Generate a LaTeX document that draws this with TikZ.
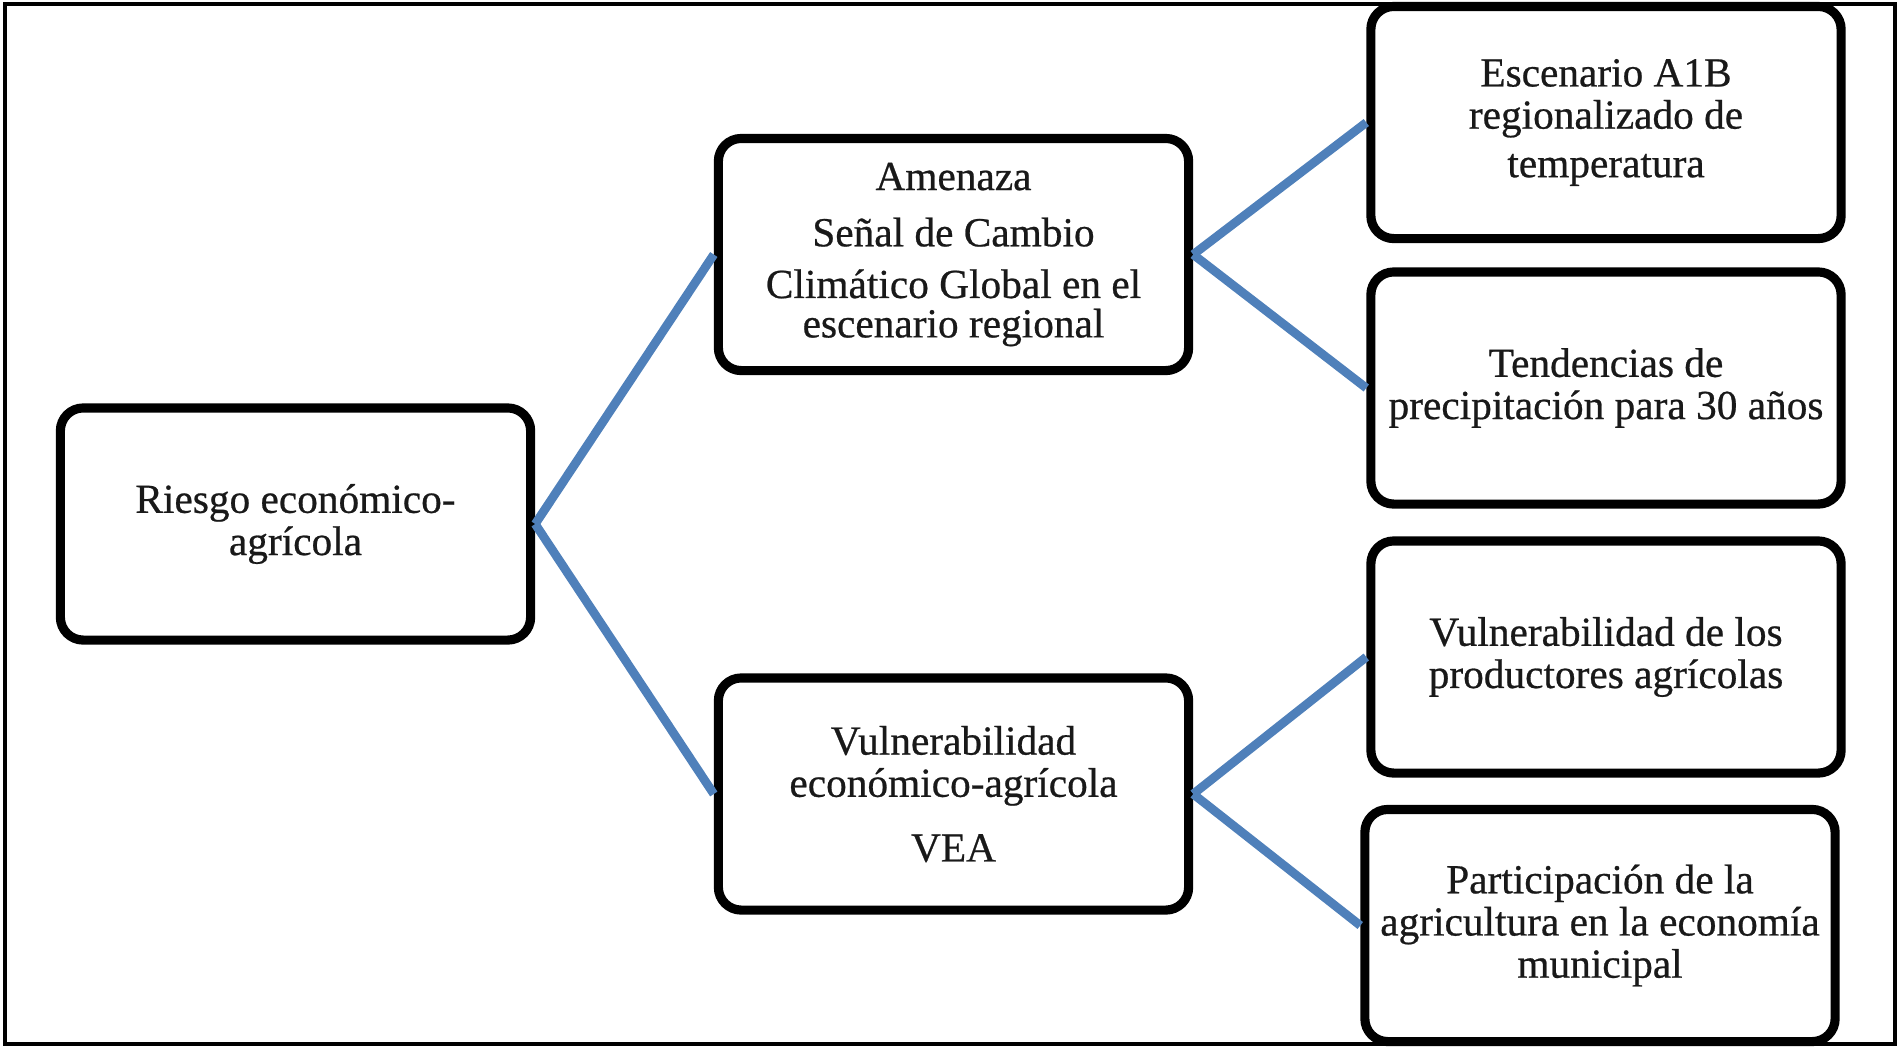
\documentclass[tikz,border=0pt]{standalone}
\usepackage{fontspec}
\setmainfont{Liberation Serif}
\newfontfamily\boxfont{Liberation Serif}[FakeBold=0.6]
\definecolor{linkblue}{RGB}{79,128,186}
\definecolor{boxtext}{RGB}{25,25,25}
\begin{document}
\begin{tikzpicture}[x=0.01cm,y=-0.01cm,
  box/.style={draw=black, line width=2.6pt, rounded corners=6.5pt,
    minimum width=4.70cm, minimum height=2.32cm, inner sep=0pt,
    align=center, text=boxtext,
    font=\boxfont\fontsize{11.75}{12}\selectfont,
    execute at begin node={\rule{0pt}{11.2pt}}},
  link/.style={draw=linkblue, line width=2.5pt}]
\useasboundingbox (0,0) rectangle (1899,1053);
\draw[line width=1pt, black] (5,4) rectangle (1895,1044);

\node[box] (R) at (295.5,524) {Riesgo económico-\\agrícola};
\node[box] (A) at (953.5,254.5) {Amenaza\\[4pt]Señal de Cambio\\[2.7pt]Climático Global en el\\[-0.8pt]escenario regional};
\node[box] (V) at (953.5,794) {Vulnerabilidad\\económico-agrícola\\[6.4pt]VEA};
\node[box] (E) at (1606,122.5) {Escenario A1B\\regionalizado de\\[1.8pt]temperatura};
\node[box] (T) at (1606,388) {Tendencias de\\precipitación para 30 años};
\node[box] (P) at (1606,657) {Vulnerabilidad de los\\productores agrícolas};
\node[box] (M) at (1600,925.5) {Participación de la\\agricultura en la economía\\municipal};

\draw[link] (R.east) -- (A.west);
\draw[link] (R.east) -- (V.west);
\draw[link] (A.east) -- (E.west);
\draw[link] (A.east) -- (T.west);
\draw[link] (V.east) -- (P.west);
\draw[link] (V.east) -- (M.west);
\end{tikzpicture}
\end{document}
